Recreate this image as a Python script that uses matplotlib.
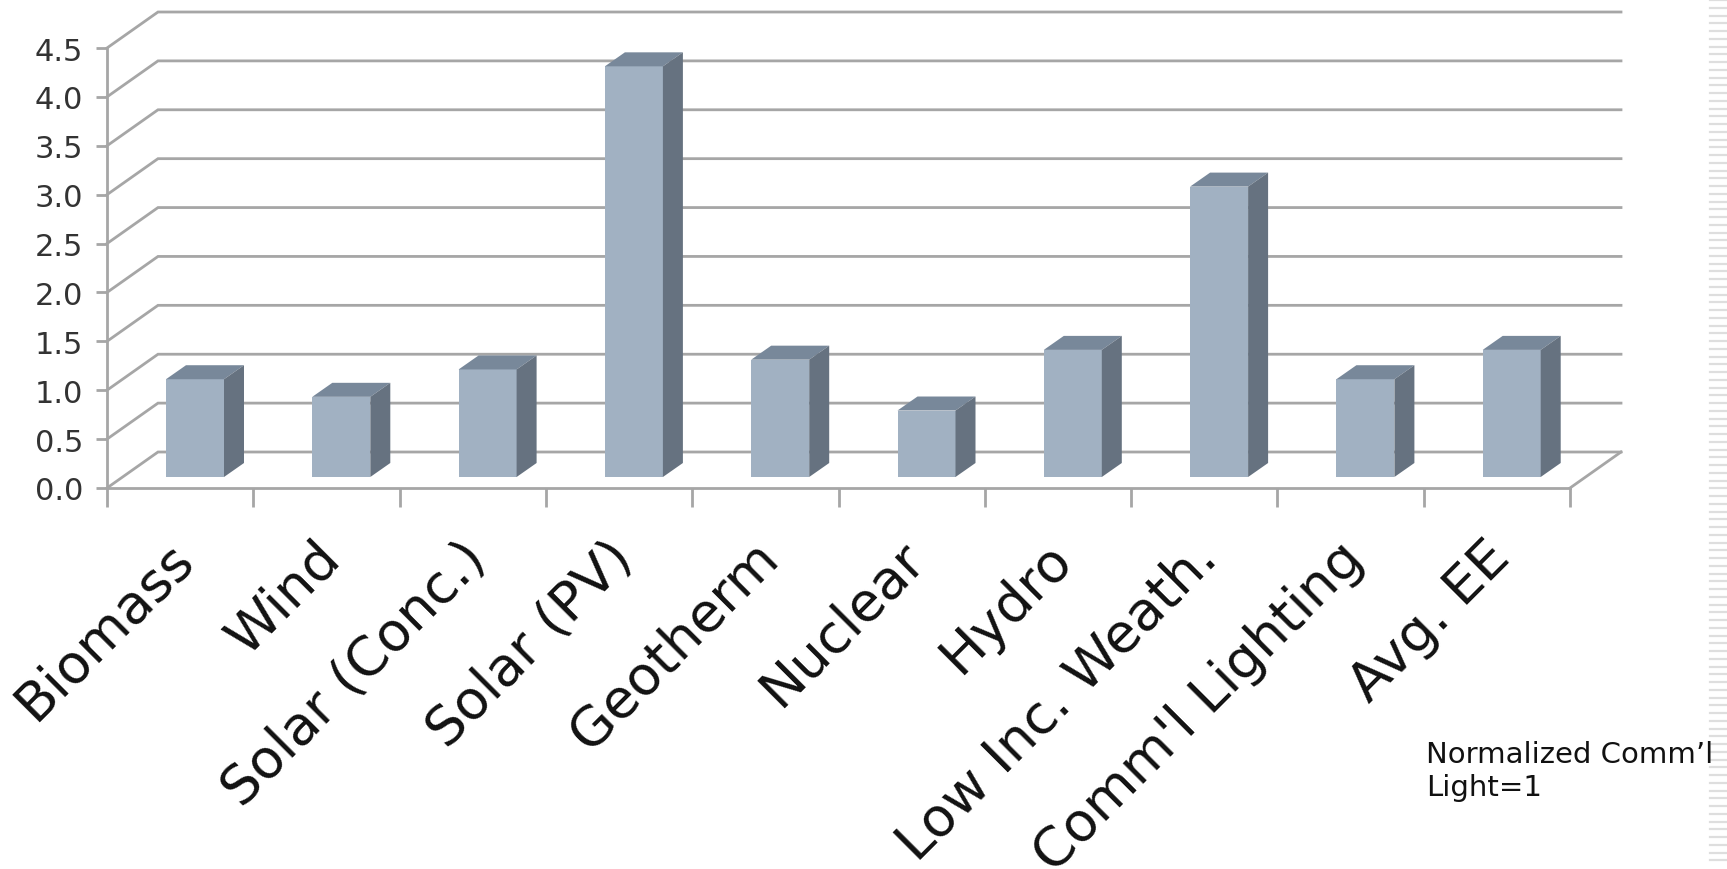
import matplotlib
matplotlib.use("Agg")
import matplotlib.pyplot as plt
from matplotlib.lines import Line2D
from matplotlib.patches import Polygon

categories = ["Biomass", "Wind", "Solar (Conc.)", "Solar (PV)", "Geotherm", "Nuclear",
              "Hydro", "Low Inc. Weath.", "Comm'l Lighting", "Avg. EE"]
values = [1.0, 0.82, 1.1, 4.2, 1.2, 0.68, 1.3, 2.97, 1.0, 1.3]
y_ticks = [0.0, 0.5, 1.0, 1.5, 2.0, 2.5, 3.0, 3.5, 4.0, 4.5]
note = "Normalized Comm\u2019l\nLight=1"

W, H = 1727, 870
fig = plt.figure(figsize=(W / 100, H / 100), dpi=100, facecolor="white")
L, R, B, T = 107, 1570, 489, 49
ax = fig.add_axes([L / W, 1 - B / H, (R - L) / W, (B - T) / H])
ax.set_xlim(0, len(categories))
ax.set_ylim(0, 4.5)
ax.patch.set_visible(False)
for s in ("top", "right"):
    ax.spines[s].set_visible(False)

GRID = "#a6a6a6"
LW = 2.0
px_x = (R - L) / len(categories)
px_y = (B - T) / 4.5
depth_x = 51 / px_x
depth_y = 36 / px_y
n = len(categories)

for t in y_ticks:
    ax.plot([0, depth_x, n + depth_x], [t, t + depth_y, t + depth_y], color=GRID, lw=LW,
            clip_on=False, zorder=1, solid_joinstyle="miter")
ax.plot([n, n + depth_x], [0, depth_y], color=GRID, lw=LW, clip_on=False, zorder=1)

bar_w = 58 / px_x
off_x = 59 / px_x
base = 11 / px_y
d_x = 20 / px_x
d_y = 14 / px_y
xs = [i + off_x + bar_w / 2 for i in range(n)]
ax.bar(xs, values, width=bar_w, bottom=base, color="#a1b1c2", zorder=3, clip_on=False)
for x, v in zip(xs, values):
    x0, x1 = x - bar_w / 2, x + bar_w / 2
    top = v + base
    ax.add_patch(Polygon([(x0, top), (x1, top), (x1 + d_x, top + d_y), (x0 + d_x, top + d_y)],
                         closed=True, fc="#78889a", ec="none", zorder=3, clip_on=False))
    ax.add_patch(Polygon([(x1, base), (x1 + d_x, base + d_y), (x1 + d_x, top + d_y), (x1, top)],
                         closed=True, fc="#667280", ec="none", zorder=3, clip_on=False))

ax.set_yticks(y_ticks)
ax.set_yticklabels([f"{t:.1f}" for t in y_ticks], fontsize=22, color="#333333")
ax.set_xticks(range(n + 1))
ax.set_xticklabels([])
ax.set_xticks([i + 0.41 for i in range(n)], minor=True)
ax.set_xticklabels(categories, minor=True, fontsize=39, rotation=45, ha="right",
                   va="top", rotation_mode="anchor", color="#111111")
ax.tick_params(axis="x", which="major", length=14, width=LW, color=GRID)
ax.tick_params(axis="x", which="minor", length=0, pad=31)
ax.tick_params(axis="y", length=8, width=LW, color=GRID, pad=9)
for s in ("left", "bottom"):
    ax.spines[s].set_color(GRID)
    ax.spines[s].set_linewidth(LW)

fig.text(1426 / W, 1 - 741 / H, note, fontsize=21, color="#111111", va="top", ha="left",
         linespacing=1.22)

# striped slide decoration on the right edge
y = 1.0
while y < H - 8:
    fig.add_artist(Line2D([1710 / W, 1], [1 - y / H, 1 - y / H], color="#dedede", lw=1.6,
                          transform=fig.transFigure))
    y += 7.75

fig.savefig("out.png", dpi=100)
